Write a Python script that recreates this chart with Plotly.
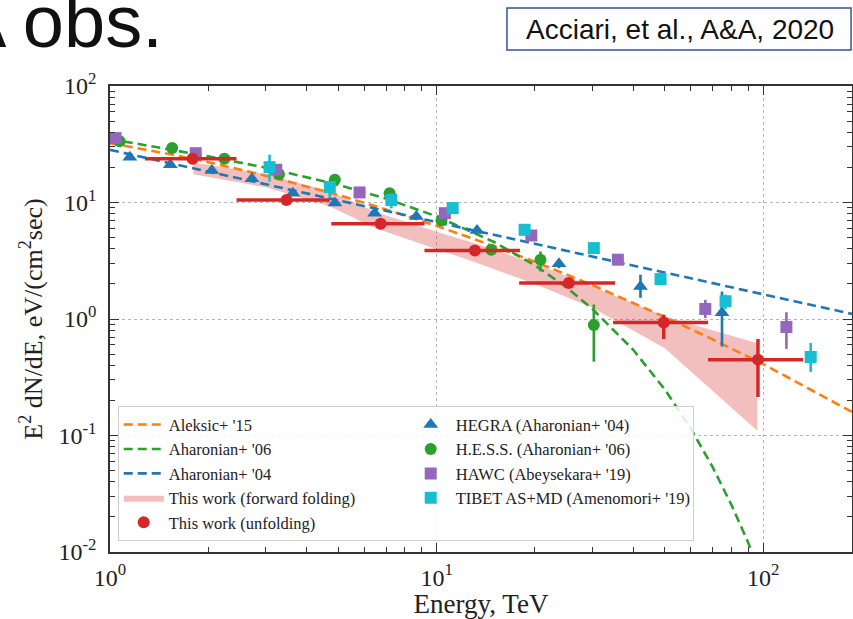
import plotly.graph_objects as go

# ---------------- data ----------------
# Model curves (E in TeV, E^2 dN/dE in eV/(cm^2 s))
aleksic_E = [1, 1.5, 2, 3, 5, 7, 10, 15, 20, 30, 50, 70, 100, 140, 200]
aleksic_v = [32.3, 26.2, 22.2, 17.0, 11.6, 8.72, 6.3, 4.21, 3.10, 1.955, 1.04, 0.668, 0.41, 0.248, 0.144]

aha06_E = [1, 1.5, 2, 3, 5, 7, 10, 15, 20, 25, 30, 40, 50, 60, 70, 80, 90, 100]
aha06_v = [35.1, 28.9, 24.9, 19.9, 14.2, 10.8, 7.61, 4.58, 2.89, 1.87, 1.22, 0.544, 0.248, 0.115,
           0.0537, 0.0253, 0.0120, 0.0057]

aha04_E = [1, 10, 100, 200]
aha04_v = [28.3, 6.79, 1.63, 1.06]

# Forward folding band
band_E = [1.8, 3.0, 4.7, 6.5, 10, 13, 20, 30, 50, 96]
band_hi = [22, 17.5, 12.5, 8.3, 5.6, 4.5, 3.0, 1.9, 1.05, 0.62]
band_lo = [17.5, 13.5, 9.3, 6.0, 4.0, 3.1, 2.0, 1.25, 0.56, 0.11]

# HEGRA
hegra_E = [1.15, 1.53, 2.05, 2.72, 3.63, 4.88, 6.46, 8.67, 13.3, 23.7, 42.1, 74.8]
hegra_v = [24.5, 21.1, 18.8, 16.0, 12.0, 9.9, 8.1, 7.6, 5.75, 2.98, 1.90, 1.13]
hegra_up = [0.8, 0.6, 0.5, 0.4, 0.4, 0.3, 0.3, 0.3, 0.3, 0.25, 0.5, 0.59]
hegra_dn = [0.8, 0.6, 0.5, 0.4, 0.4, 0.3, 0.3, 0.3, 0.3, 0.25, 0.38, 0.55]

# H.E.S.S.
hess_E = [1.07, 1.55, 2.24, 3.29, 4.88, 7.18, 10.35, 14.7, 20.8, 30.3]
hess_v = [33.5, 29.3, 23.7, 17.5, 15.7, 12.0, 7.0, 3.93, 3.23, 0.89]
hess_up = [1.0, 0.8, 0.6, 0.5, 0.5, 0.4, 0.35, 0.35, 0.57, 0.44]
hess_dn = [1.0, 0.8, 0.6, 0.5, 0.5, 0.4, 0.35, 0.35, 0.67, 0.46]

# HAWC
hawc_E = [1.04, 1.83, 3.23, 5.81, 10.6, 19.5, 35.9, 66.5, 117.8]
hawc_v = [35.7, 26.5, 19.1, 12.2, 8.1, 5.21, 3.23, 1.22, 0.854]
hawc_up = [1.5, 1.0, 0.7, 0.5, 0.35, 0.25, 0.2, 0.24, 0.29]
hawc_dn = [1.5, 1.0, 0.7, 0.5, 0.35, 0.25, 0.2, 0.20, 0.30]

# TIBET AS+MD
tibet_E = [3.08, 4.71, 7.27, 11.2, 18.6, 30.3, 48.5, 76.7, 139.8]
tibet_v = [20.1, 13.6, 10.5, 8.95, 5.83, 4.06, 2.20, 1.42, 0.472]
tibet_up = [5.6, 1.5, 1.5, 0.5, 0.4, 0.25, 0.2, 0.2, 0.15]
tibet_dn = [5.0, 2.7, 1.6, 0.5, 0.4, 0.25, 0.2, 0.2, 0.12]

# This work (unfolding)
red_E = [1.79, 3.47, 6.74, 13.1, 25.4, 49.6, 96.4]
red_v = [23.7, 10.5, 6.57, 3.88, 2.04, 0.935, 0.448]
red_Elo = [1.28, 2.44, 4.76, 9.18, 17.9, 34.7, 67.8]
red_Ehi = [2.44, 4.71, 9.18, 18.0, 35.2, 67.8, 132.6]
red_vlo = [22.5, 10.0, 6.2, 3.6, 1.85, 0.674, 0.214]
red_vhi = [25.0, 11.0, 6.95, 4.15, 2.25, 1.09, 0.674]

x_ticks = [1, 10, 100]
x_ticktext = ["10<sup>0</sup>", "10<sup>1</sup>", "10<sup>2</sup>"]
y_ticks = [0.01, 0.1, 1, 10, 100]
y_ticktext = ["10<sup>-2</sup>", "10<sup>-1</sup>", "10<sup>0</sup>", "10<sup>1</sup>", "10<sup>2</sup>"]

# ---------------- styling ----------------
C_ORANGE = "#ff7f0e"
C_GREEN = "#2ca02c"
C_BLUE = "#1f77b4"
C_RED = "#d62728"
C_PURPLE = "#9467bd"
C_CYAN = "#17becf"
SERIF = "Liberation Serif"
DASH = "9px,5px"

fig = go.Figure()

fig.add_trace(go.Scatter(
    x=band_E + band_E[::-1], y=band_hi + band_lo[::-1],
    mode="lines", fill="toself", fillcolor="rgba(214,39,40,0.3)",
    line=dict(width=0, color="rgba(214,39,40,0.3)"),
    name="This work (forward folding)", legendrank=7, hoverinfo="skip"))

for E, v, c, nm, rk in [(aleksic_E, aleksic_v, C_ORANGE, "Aleksic+ '15", 1),
                        (aha06_E, aha06_v, C_GREEN, "Aharonian+ '06", 3),
                        (aha04_E, aha04_v, C_BLUE, "Aharonian+ '04", 5)]:
    fig.add_trace(go.Scatter(x=E, y=v, mode="lines", name=nm, legendrank=rk,
                             line=dict(color=c, width=2.6, dash=DASH)))


def pts(E, v, up, dn, c, sym, nm, rk, size=12):
    return go.Scatter(
        x=E, y=v, mode="markers", name=nm, legendrank=rk,
        marker=dict(color=c, symbol=sym, size=size, line=dict(width=0)),
        error_y=dict(type="data", symmetric=False, array=up, arrayminus=dn,
                     color=c, thickness=2.6, width=0))


fig.add_trace(pts(hegra_E, hegra_v, hegra_up, hegra_dn, C_BLUE, "triangle-up",
                  "HEGRA (Aharonian+ '04)", 2, 13))
fig.add_trace(pts(hess_E, hess_v, hess_up, hess_dn, C_GREEN, "circle",
                  "H.E.S.S. (Aharonian+ '06)", 4, 12))
fig.add_trace(pts(hawc_E, hawc_v, hawc_up, hawc_dn, C_PURPLE, "square",
                  "HAWC (Abeysekara+ '19)", 6, 12))
fig.add_trace(pts(tibet_E, tibet_v, tibet_up, tibet_dn, C_CYAN, "square",
                  "TIBET AS+MD (Amenomori+ '19)", 8, 12))

fig.add_trace(go.Scatter(
    x=red_E, y=red_v, mode="markers", name="This work (unfolding)", legendrank=9,
    marker=dict(color=C_RED, symbol="circle", size=12),
    error_x=dict(type="data", symmetric=False,
                 array=[h - e for h, e in zip(red_Ehi, red_E)],
                 arrayminus=[e - l for e, l in zip(red_E, red_Elo)],
                 color=C_RED, thickness=3.5, width=0),
    error_y=dict(type="data", symmetric=False,
                 array=[h - v for h, v in zip(red_vhi, red_v)],
                 arrayminus=[v - l for v, l in zip(red_v, red_vlo)],
                 color=C_RED, thickness=3.5, width=0)))

minor_x = [m * 10 ** d for d in range(0, 3) for m in range(2, 10)]
minor_y = [m * 10.0 ** d for d in range(-2, 2) for m in range(2, 10)]

axis_common = dict(
    type="log", showline=True, linecolor="#333", linewidth=1.5, mirror="allticks",
    ticks="inside", ticklen=9, tickwidth=1.3, tickcolor="#333",
    showgrid=True, gridcolor="#b5b5b5", griddash="dot", gridwidth=1,
    zeroline=False, tickfont=dict(family=SERIF, size=24, color="#222"),
)

fig.update_xaxes(range=[0, 2.272], tickmode="array", tickvals=x_ticks, ticktext=x_ticktext,
                 minor=dict(ticks="inside", ticklen=5, tickwidth=1, tickcolor="#333",
                            tickmode="array", tickvals=minor_x, showgrid=False),
                 title=dict(text="Energy, TeV", font=dict(family=SERIF, size=27, color="#222"),
                            standoff=8),
                 ticklabelstandoff=3, **axis_common)
fig.update_yaxes(range=[-2, 2], tickmode="array", tickvals=y_ticks, ticktext=y_ticktext,
                 minor=dict(ticks="inside", ticklen=5, tickwidth=1, tickcolor="#333",
                            tickmode="array", tickvals=minor_y, showgrid=False),
                 title=dict(text="E<sup>2</sup> dN/dE, eV/(cm<sup>2</sup>sec)",
                            font=dict(family=SERIF, size=26, color="#222"), standoff=8),
                 ticklabelstandoff=7, **axis_common)

fig.update_layout(
    width=853, height=619,
    margin=dict(l=110, r=1, t=86, b=67, autoexpand=False),
    paper_bgcolor="white", plot_bgcolor="white",
    showlegend=True,
    legend=dict(orientation="h", x=0.0104, xanchor="left", y=0.023, yanchor="bottom",
                entrywidth=232, entrywidthmode="pixels", itemwidth=40,
                font=dict(family=SERIF, size=16.5, color="#222"),
                bgcolor="rgba(255,255,255,0.85)", bordercolor="#d0d0d0", borderwidth=1,
                traceorder="normal"),
    shapes=[dict(type="rect", xref="paper", yref="paper",
                 x0=0.535, x1=0.9987, y0=1.0773, y1=1.1674,
                 line=dict(color="#2F5597", width=1.5), fillcolor="white", layer="above")],
    annotations=[
        dict(text="A obs.", xref="paper", yref="paper", x=0.0741, y=1.138,
             xanchor="right", yanchor="middle", showarrow=False,
             font=dict(family="Liberation Sans", size=74, color="#111")),
        dict(text="Acciari, et al., A&A, 2020", xref="paper", yref="paper", x=0.768, y=1.121,
             xanchor="center", yanchor="middle", showarrow=False,
             font=dict(family="Liberation Sans", size=28, color="#111")),
    ],
)

fig.write_html("out.html")
